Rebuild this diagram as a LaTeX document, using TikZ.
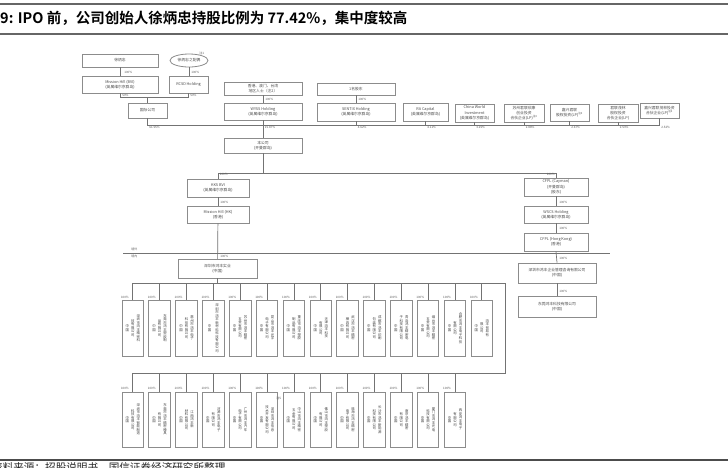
\documentclass[tikz,border=0pt]{standalone}
\usepackage{fontspec}
\setmainfont{Noto Sans CJK SC}[BoldFont={Noto Sans CJK SC Bold}]
\usetikzlibrary{shapes.geometric}
\XeTeXlinebreaklocale "zh"
\XeTeXlinebreakskip=0pt plus 1pt
\makeatletter
\def\vt@loop#1{\ifx#1\@nil\else\hbox to 3.5pt{\hss#1\hss}\expandafter\vt@loop\fi}
\newcommand\vcol[1]{\parbox[c]{3.5pt}{\fontsize{3.4}{3.5}\selectfont\edef\tmp@v{#1}\expandafter\vt@loop\tmp@v\@nil}}
\makeatother
\newcommand\obox[7][]{\node[box,#1,minimum width={(#5-#3)*1pt},minimum height={(#6-#4)*1pt}] (#2) at ({(#3+#5)/2},{(#4+#6)/2}) {#7};}
\tikzset{
  box/.style={draw=black!45, line width=0.8pt, inner sep=0pt, align=center, text=black!70, font=\fontsize{3.8}{5.2}\selectfont},
  vbox/.style={draw=black!45, line width=0.8pt, inner sep=0pt, text=black!75, minimum width=21.5pt},
  conn/.style={draw=black!55, line width=0.7pt},
  pct/.style={font=\fontsize{3}{3}\selectfont, text=black!65, inner sep=0.2pt},
  titleline/.style={draw=black!60, line width=1.6pt},
}
\begin{document}
\begin{tikzpicture}[x=1pt,y=-1pt]
\useasboundingbox (0,0) rectangle (728,467);
\clip (0,0) rectangle (728,467);
\fill[white] (0,0) rectangle (728,467);
% title
\draw[titleline] (0,4) -- (728,4);
\draw[titleline] (0,34) -- (728,34);
\node[anchor=west, inner sep=0pt, font=\bfseries\fontsize{14.5}{15}\selectfont] (title) at (0,18.5) {9: IPO 前，公司创始人徐炳忠持股比例为 77.42\%，集中度较高};
% footer
\draw[draw=black!70, line width=1.2pt] (0,460) -- (728,460);
\node[anchor=north west, inner sep=0pt, font=\fontsize{10.6}{11}\selectfont, text=black!85] (src) at (-8,462) {资料来源：招股说明书，国信证券经济研究所整理};

% top-left owners
\obox{A1}{82}{54}{158}{67}{徐炳忠}
\node[draw=black!45, line width=0.8pt, ellipse, inner sep=0pt, minimum width=38pt, minimum height=13pt, text=black!70, font=\fontsize{3.8}{5.2}\selectfont] (A2) at (189,60.5) {徐炳忠之配偶};
\node[pct, anchor=south west] (A2n) at (199,55) {注1};
\obox{B1}{82}{76}{158}{93}{Mission Hill (BVI)\\(英属维尔京群岛)}
\obox{B2}{169}{76}{208}{93}{RCSD Holding}
\obox{C}{128}{103}{167}{118}{国际公司}
% middle owners
\obox{D1}{224}{82}{302}{95}{香港、澳门、台湾\\地区人士（注2）}
\obox{D2}{317}{83}{395}{95}{1名股东}
\obox{E1}{224}{103}{302}{120}{WYSS Holding\\(英属维尔京群岛)}
\obox{E2}{317}{103}{395}{121}{SENTIX Holding\\(英属维尔京群岛)}
\obox{E3}{403}{103}{448}{121}{RA Capital\\(英属维尔京群岛)}
\obox{E4}{455}{104}{494}{122}{China World\\Investment\\(英属维尔京群岛)}
\obox{E5}{504}{104}{544}{122}{苏州君联欣康\\创业投资\\合伙企业(LP)\textsuperscript{注3}}
\obox{E6}{550}{104}{589}{121}{嘉兴君联\\股权投资(LP)\textsuperscript{注3}}
\obox{E7}{598}{104}{638}{122}{君联茂林\\股权投资\\合伙企业(LP)}
\obox{E8}{640}{103}{679}{118}{嘉兴君联茂林投资\\合伙企业(LP)\textsuperscript{注3}}
% company
\obox{F}{224}{138}{302}{153}{本公司\\(开曼群岛)}
\obox{H1}{187}{179}{249}{197}{KKS BVI\\(英属维尔京群岛)}
\obox{H2}{187}{206}{249}{223}{Mission Hill (HK)\\(香港)}
\obox{W1}{178}{259}{257}{278}{深圳市鸿丰实业\\(中国)}
\obox{K1}{524}{178}{588}{196}{CFPL (Cayman)\\(开曼群岛)\\(股东)}
\obox{K2}{524}{206}{588}{223}{WSCS Holding\\(英属维尔京群岛)}
\obox{K3}{524}{233}{588}{251}{CFPL (Hong Kong)\\(香港)}
\obox{K4}{518}{263}{596}{283}{深圳市鸿丰企业管理咨询有限公司\\(中国)}
\obox{K5}{518}{296}{596}{317}{东莞鸿丰科技有限公司\\(中国)}

% connectors top
\draw[conn] (A1) -- (B1);
\draw[conn] (A2.south) -- (A2.south |- B2.north);
\node[pct, anchor=west] (l1) at (124,72) {100\%};
\node[pct, anchor=west] (l2) at (191,72) {100\%};
\coordinate (jBC) at (148,97.5);
\draw[conn] (B1.south) |- (B2.south |- jBC) -- (B2.south);
\draw[conn] (C.north) -- (C.north |- jBC);
\node[pct, anchor=south west] (l3) at (122,97) {50\%};
\node[pct, anchor=south west] (l4) at (190,97) {50\%};
\draw[conn] (D1) -- (E1);
\draw[conn] (D2) -- (E2);
\node[pct, anchor=west] (l5) at (265,99) {100\%};
\node[pct, anchor=west] (l6) at (358,99) {100\%};
\coordinate (bus1) at (0,125.5);
\draw[conn] (C.south) -- (C.south |- bus1) -- (E8.south |- bus1);
\draw[conn] (E1.south) -- (F.north);
\foreach \n in {E2,E3,E4,E5,E6,E7,E8} \draw[conn] (\n.south) -- (\n.south |- bus1);
\node[pct, anchor=north west] (p0) at ([xshift=1.5pt]C.south |- bus1) {61.55\%};
\node[pct, anchor=north west] (p1) at ([xshift=1.5pt]E1.south |- bus1) {15.87\%};
\node[pct, anchor=north west] (p2) at ([xshift=1.5pt]E2.south |- bus1) {4.62\%};
\node[pct, anchor=north west] (p3) at ([xshift=1.5pt]E3.south |- bus1) {4.11\%};
\node[pct, anchor=north west] (p4) at ([xshift=1.5pt]E4.south |- bus1) {3.25\%};
\node[pct, anchor=north west] (p5) at ([xshift=1.5pt]E5.south |- bus1) {2.88\%};
\node[pct, anchor=north west] (p6) at ([xshift=1.5pt]E6.south |- bus1) {2.67\%};
\node[pct, anchor=north west] (p7) at ([xshift=1.5pt]E7.south |- bus1) {2.53\%};
\node[pct, anchor=north west] (p8) at ([xshift=1.5pt]E8.south |- bus1) {2.52\%};
% company down
\coordinate (bus2) at (0,173);
\draw[conn] (F.south) -- (F.south |- bus2);
\draw[conn] (H1.north) -- (H1.north |- bus2) -- (K1.north |- bus2) -- (K1.north);
\node[pct, anchor=north west] (q1) at ([xshift=1.5pt]H1.north |- bus2) {100\%};
\node[pct, anchor=north east] (q2) at ([xshift=-1pt]K1.north |- bus2) {100\%};
\draw[conn] (H1) -- (H2);
\draw[conn] (H2) -- (W1);
\node[pct, anchor=west] (q3) at (220,202) {100\%};
\draw[conn] (K1.south) -- (K2.north);
\draw[conn] (K2.south) -- (K3.north);
\draw[conn] (K3.south) -- (K4.north);
\draw[conn] (K4.south) -- (K5.north);
\node[pct, anchor=west] (q5) at (559,202.5) {100\%};
\node[pct, anchor=west] (q6) at (559,228) {100\%};
\node[pct, anchor=west] (q7) at (559,258) {100\%};
\node[pct, anchor=west] (q8) at (559,291) {100\%};
% border line
\coordinate (divL) at (123,253.5);
\coordinate (divR) at (610,253.5);
\draw[conn] (divL) -- (divR);
\node[pct, anchor=west] (jw) at (131,249) {境外};
\node[pct, anchor=west] (jn) at (131,256) {境内};
\node[pct, anchor=west] (q4) at (220,256) {100\%};

% subsidiaries
\foreach \i/\L/\M/\R in {1/中国/技有限公司/深圳市鸿丰精密科,2/中国/品有限公司/东莞市鸿丰塑胶制,3/中国/科技有限公司/惠州市鸿丰电子,4/中国//深圳市鸿丰新材料科技有限公司,5/中国/五金有限公司/苏州市鸿丰精密,6/中国/电子有限公司/昆山市鸿丰光学,7/中国/制品有限公司/重庆市鸿丰塑胶,8/中国/有限公司/天津鸿丰科技,9/中国/模具有限公司/武汉市鸿丰精密,10/中国/包装有限公司/成都市鸿丰印刷,11/中国/子科技有限公司/青岛鸿丰精密电,12/中国/五金有限公司/烟台市鸿丰精密,13/中国/有限公司/合肥市鸿丰电子科技,14/中国/限公司/鸿丰贸易有}{
  \pgfmathsetmacro\cx{132.75+26.85*(\i-1)}
  \node[vbox, minimum height=56pt] (r1-\i) at (\cx,328) {\vcol{\L}\hspace{2pt}\vcol{\M}\hspace{2pt}\vcol{\R}};
  \node[pct, anchor=west] (r1l-\i) at ([xshift=-1pt]r1-\i.north west |- 0,297.5) {100\%};
}
\foreach \i/\L/\M/\R in {1/中国/科技有限公司/深圳市鸿丰智能制造,2/中国/有限公司/东莞市鸿丰精密模具,3/中国/材料有限公司/江西鸿丰新,4/中国/有限公司/河源市鸿丰电子,5/中国/电子有限公司/广州市鸿丰汽车,6/中国/技术开发有限公司/深圳市鸿丰信息,7/中国/五金有限公司/中山市鸿丰精密,8/中国/有限公司/佛山市鸿丰塑胶,9/中国/电子有限公司/珠海市鸿丰精密,10/中国/科技有限公司/长沙市鸿丰新能源,11/中国/有限公司/南京鸿丰精密,12/中国/科技有限公司/厦门市鸿丰光电,13/中国/有限公司/西安鸿丰电子}{
  \pgfmathsetmacro\cx{132.75+26.85*(\i-1)}
  \node[vbox, minimum height=55pt] (r2-\i) at (\cx,419.5) {\vcol{\L}\hspace{2pt}\vcol{\M}\hspace{2pt}\vcol{\R}};
  \node[pct, anchor=west] (r2l-\i) at ([xshift=-1pt]r2-\i.north west |- 0,388.5) {100\%};
}
\node[pct, anchor=west] (n5) at (276,398) {注5};
\coordinate (loopT) at (505,283);
\coordinate (loopB) at (505,373);
\draw[conn] (W1.south) -- (W1.south |- loopT);
\draw[conn] (r1-1.north |- loopT) -- (loopT) -- (loopB) -- (r2-1.north |- loopB);
\foreach \i in {1,...,14} \draw[conn] (r1-\i.north |- loopT) -- (r1-\i.north);
\foreach \i in {1,...,13} \draw[conn] (r2-\i.north |- loopB) -- (r2-\i.north);
\end{tikzpicture}
\end{document}
